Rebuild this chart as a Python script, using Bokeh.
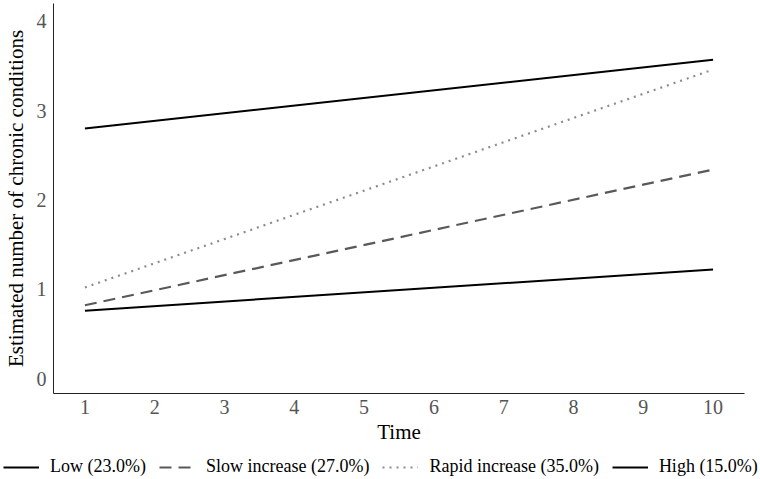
from bokeh.plotting import figure
from bokeh.models import Range1d, FixedTicker, Legend, LegendItem
from bokeh.layouts import column
from bokeh.embed import file_html
from bokeh.resources import INLINE

# Data
time = [1, 10]
low = [0.76, 1.22]
slow = [0.82, 2.34]
rapid = [1.02, 3.46]
high = [2.80, 3.57]
labels = ["Low (23.0%)", "Slow increase (27.0%)", "Rapid increase (35.0%)", "High (15.0%)"]
x_ticks = [1, 2, 3, 4, 5, 6, 7, 8, 9, 10]
y_ticks = [0, 1, 2, 3, 4]

FONT = "Liberation Serif"
styles = [dict(line_color="black", line_width=2),
          dict(line_color="#595959", line_width=2.2, line_dash="12 7"),
          dict(line_color="#8c8c8c", line_width=2.2, line_dash="2 5"),
          dict(line_color="black", line_width=2)]
series = [low, slow, rapid, high]

p = figure(width=760, height=448, output_backend="svg", toolbar_location=None,
           x_range=Range1d(0.55, 10.45), y_range=Range1d(-0.168, 4.20),
           min_border_left=53, min_border_right=16, min_border_top=3, min_border_bottom=55)
p.title = None
p.grid.visible = False
p.outline_line_color = None
p.background_fill_color = "white"
p.border_fill_color = "white"

for ys, st in zip(series, styles):
    p.line(time, ys, **st)

for ax in (p.xaxis[0], p.yaxis[0]):
    ax.axis_line_color = "#222222"
    ax.axis_line_width = 1
    ax.major_tick_line_color = None
    ax.minor_tick_line_color = None
    ax.major_tick_out = 0
    ax.major_tick_in = 0
    ax.major_label_text_font = FONT
    ax.major_label_text_font_size = "20px"
    ax.major_label_text_color = "#555555"
    ax.axis_label_text_font = FONT
    ax.axis_label_text_font_size = "21px"
    ax.axis_label_text_font_style = "normal"
    ax.axis_label_text_color = "black"

p.xaxis.ticker = FixedTicker(ticks=x_ticks)
p.yaxis.ticker = FixedTicker(ticks=y_ticks)
p.xaxis.axis_label = "Time"
p.yaxis.axis_label = "Estimated number of chronic conditions"
p.xaxis.major_label_standoff = 6
p.xaxis.axis_label_standoff = 3
p.yaxis.major_label_standoff = 7
p.yaxis.axis_label_standoff = 6

# Legend strip below the plot (series drawn out of view; only the legend shows)
p2 = figure(width=760, height=31, output_backend="svg", toolbar_location=None,
            x_range=Range1d(0, 1), y_range=Range1d(100, 101),
            x_axis_location=None, y_axis_location=None,
            min_border_left=0, min_border_right=0, min_border_top=0, min_border_bottom=0)
p2.title = None
p2.grid.visible = False
p2.outline_line_color = None
p2.border_fill_color = "white"
keys = [p2.line(time, ys, **st) for ys, st in zip(series, styles)]
legend = Legend(items=[LegendItem(label=lab, renderers=[r]) for lab, r in zip(labels, keys)],
                orientation="horizontal", location=(3, 2),
                padding=0, margin=0, spacing=13, glyph_width=36, glyph_height=20,
                label_standoff=11, label_height=20,
                label_text_font=FONT, label_text_font_size="18px",
                label_text_color="black",
                background_fill_alpha=0, border_line_color=None)
p2.add_layout(legend, "center")

layout = column(p, column(p2, spacing=0), spacing=0)
open("out.html", "w").write(file_html(layout, INLINE))
